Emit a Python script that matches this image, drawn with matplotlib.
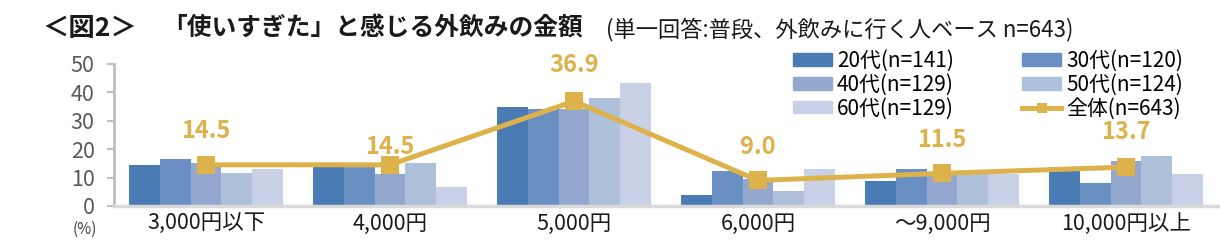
import matplotlib
matplotlib.use('Agg')
import matplotlib.pyplot as plt
from matplotlib.patches import Patch
from matplotlib.lines import Line2D
import numpy as np

plt.rcParams['font.family'] = ['Noto Sans CJK JP', 'DejaVu Sans']

# Data (%)
categories = ['3,000円以下', '4,000円', '5,000円', '6,000円', '～9,000円', '10,000円以上']
age_labels = ['20代(n=141)', '30代(n=120)', '40代(n=129)', '50代(n=124)', '60代(n=129)']
age_20s = [14.4, 13.6, 34.9, 3.9, 8.9, 13.7]
age_30s = [16.5, 13.6, 34.2, 12.4, 13.0, 8.2]
age_40s = [15.1, 11.3, 34.0, 9.6, 10.9, 15.8]
age_50s = [11.6, 15.1, 38.0, 5.4, 11.3, 17.6]
age_60s = [13.0, 6.7, 43.3, 13.0, 11.3, 11.3]
total_label = '全体(n=643)'
total = [14.5, 14.5, 36.9, 9.0, 11.5, 13.7]

# label offsets above the markers (points)
label_dy = [24, 13, 26, 24, 24, 25]

bar_colors = ['#4A7BB5', '#6A8FC3', '#94A8CF', '#AFC0DA', '#C8D1E5']
gold = '#DDB24B'

fig = plt.figure(figsize=(12.2, 2.5), dpi=100)
ax = fig.add_axes([0.0934, 0.176, 0.905, 0.568])

x = np.arange(len(categories))
w = 1 / 6
series = [age_20s, age_30s, age_40s, age_50s, age_60s]
for k, vals in enumerate(series):
    ax.bar(x + (k - 2) * w, vals, width=w, color=bar_colors[k], zorder=2)

ax.plot(x, total, color=gold, lw=3.6, marker='s', ms=13.5, mew=0, zorder=4)
for xi, v, dy in zip(x, total, label_dy):
    ax.annotate(f'{v:.1f}', (xi, v), xytext=(0, dy), textcoords='offset points',
                ha='center', va='center', fontsize=17, fontweight='bold',
                color=gold, zorder=5)

ax.set_xlim(-0.5, 5.5)
ax.set_ylim(0, 50)
ax.set_yticks(range(0, 51, 10))
ax.set_xticks(x)
ax.set_xticklabels(categories)
ax.tick_params(axis='x', length=0, pad=5, labelsize=15.5, labelcolor='#1a1a1a')
ax.tick_params(axis='y', length=5, width=1.5, color='#BFBFBF', pad=9,
               labelsize=15.5, labelcolor='#595959')
for s in ['top', 'right']:
    ax.spines[s].set_visible(False)
ax.spines['left'].set_color('#BFBFBF')
ax.spines['left'].set_linewidth(2)
ax.spines['bottom'].set_color('#D9D9D9')
ax.spines['bottom'].set_linewidth(2.5)
ax.spines['bottom'].set_zorder(3)

fig.text(85 / 1220, 1 - 229 / 250, '(%)', ha='center', va='center',
         fontsize=11, color='#404040')

# title
fig.text(42 / 1220, 0.856, '＜図2＞', ha='left', va='baseline',
         fontsize=19, fontweight='bold', color='#1a1a1a')
fig.text(162 / 1220, 0.856, '「使いすぎた」と感じる外飲みの金額', ha='left',
         va='baseline', fontsize=17.8, fontweight='bold', color='#1a1a1a')
fig.text(606 / 1220, 0.856, '(単一回答:普段、外飲みに行く人ベース n=643)',
         ha='left', va='baseline', fontsize=16, color='#1a1a1a')

# legend: column-first order
h = [Patch(color=c) for c in bar_colors]
line_h = Line2D([], [], color=gold, lw=3.6, marker='s', ms=7, mew=0)
handles = [h[0], h[2], h[4], h[1], h[3], line_h]
labels = [age_labels[0], age_labels[2], age_labels[4], age_labels[1],
          age_labels[3], total_label]
ax.legend(handles, labels, ncol=2, loc='upper left',
          bbox_to_anchor=(793 / 1220, 0.80), bbox_transform=fig.transFigure,
          frameon=False, fontsize=15, handlelength=1.85, handleheight=0.55,
          handletextpad=0.25, labelspacing=0.08, columnspacing=3.3,
          borderpad=0, borderaxespad=0)

fig.savefig('out.png', dpi=100)
